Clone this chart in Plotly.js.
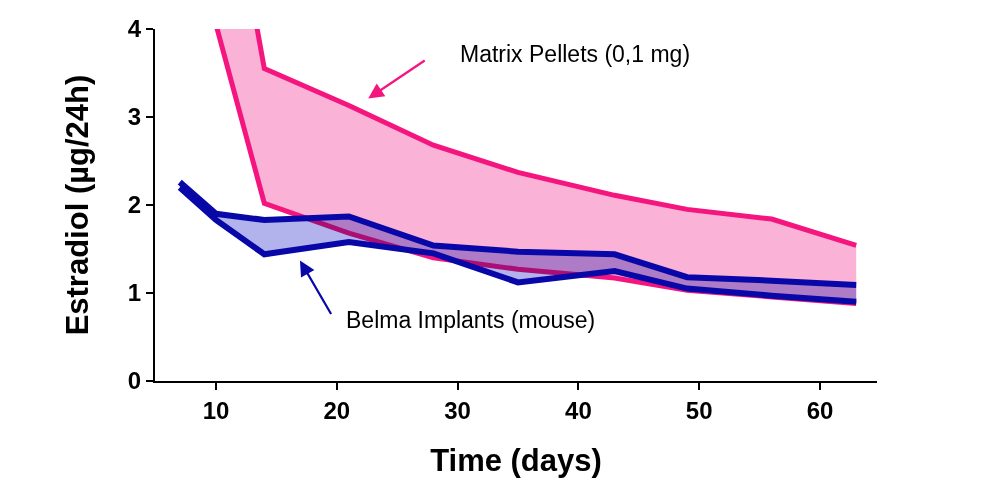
<!DOCTYPE html>
<html>
<head>
<meta charset="utf-8">
<script src="https://cdn.plot.ly/plotly-3.0.1.min.js"></script>
<style>
html,body{margin:0;padding:0;background:#fff;}
#chart{width:1000px;height:494px;}
</style>
</head>
<body>
<div id="chart"></div>
<script>
// Time points (days)
const pelletDays = [10, 14, 21, 28, 35, 43, 49, 56, 63];
const implantDays = [7, 10, 14, 21, 28, 35, 43, 49, 56, 63];

// Matrix Pellets (0,1 mg) – upper and lower bound (µg/24h)
const pelletUpper = [6.6, 3.55, 3.13, 2.68, 2.37, 2.11, 1.95, 1.84, 1.54];
const pelletLower = [4.05, 2.02, 1.68, 1.40, 1.27, 1.17, 1.03, 0.95, 0.88];

// Belma Implants (mouse) – upper and lower bound (µg/24h)
const implantUpper = [2.26, 1.90, 1.83, 1.87, 1.54, 1.47, 1.44, 1.18, 1.14, 1.09];
const implantLower = [2.20, 1.83, 1.44, 1.58, 1.45, 1.12, 1.25, 1.05, 0.97, 0.90];

const xTicks = [10, 20, 30, 40, 50, 60];
const yTicks = [0, 1, 2, 3, 4];

const PINK_LINE = '#f5157f';
const PINK_FILL = '#fab2d6';
const BLUE_LINE = '#0808a8';
const BLUE_FILL = '#b2b2ec';

const traces = [
  {x: pelletDays, y: pelletUpper, type: 'scatter', mode: 'lines',
   line: {color: PINK_LINE, width: 5}, hoverinfo: 'skip'},
  {x: pelletDays, y: pelletLower, type: 'scatter', mode: 'lines', fill: 'tonexty',
   fillcolor: PINK_FILL, line: {color: PINK_LINE, width: 5}, hoverinfo: 'skip'},
  {x: implantDays, y: implantUpper, type: 'scatter', mode: 'lines',
   line: {color: BLUE_LINE, width: 6}, hoverinfo: 'skip'},
  {x: implantDays, y: implantLower, type: 'scatter', mode: 'lines', fill: 'tonexty',
   fillcolor: BLUE_FILL, line: {color: BLUE_LINE, width: 6}, hoverinfo: 'skip'}
];

const tickFont = {family: 'Liberation Sans, Arial, sans-serif', size: 24, color: '#000', weight: 700};
const titleFont = {family: 'Liberation Sans, Arial, sans-serif', size: 31, color: '#000', weight: 700};
const annFont = {family: 'Liberation Sans, Arial, sans-serif', size: 23, color: '#000'};

const layout = {
  width: 1000, height: 494,
  margin: {l: 155, r: 123, t: 29, b: 113, pad: 0},
  paper_bgcolor: '#fff', plot_bgcolor: '#fff',
  showlegend: false,
  xaxis: {
    range: [4.95, 64.72], tickvals: xTicks, ticktext: xTicks.map(String),
    showgrid: false, zeroline: false, showline: true, linecolor: '#000', linewidth: 2,
    ticks: 'outside', ticklen: 7, tickwidth: 2, tickcolor: '#000',
    tickfont: tickFont, fixedrange: true,
    title: {text: 'Time (days)', font: titleFont, standoff: 27}
  },
  yaxis: {
    range: [0, 4], tickvals: yTicks, ticktext: yTicks.map(String),
    showgrid: false, zeroline: false, showline: true, linecolor: '#000', linewidth: 2,
    ticks: 'outside', ticklen: 7, tickwidth: 2, tickcolor: '#000',
    tickfont: tickFont, fixedrange: true,
    title: {text: 'Estradiol (µg/24h)', font: titleFont, standoff: 30}
  },
  annotations: [
    {x: 22.6, y: 3.21, xref: 'x', yref: 'y', ax: 58, ay: -39, showarrow: true,
     arrowhead: 2, arrowsize: 1.4, arrowwidth: 2.2, arrowcolor: PINK_LINE, text: ''},
    {x: 39.7, y: 3.72, xref: 'x', yref: 'y', showarrow: false,
     text: 'Matrix Pellets (0,1 mg)', font: annFont},
    {x: 16.95, y: 1.37, xref: 'x', yref: 'y', ax: 32, ay: 55, showarrow: true,
     arrowhead: 2, arrowsize: 1.4, arrowwidth: 2.2, arrowcolor: BLUE_LINE, text: ''},
    {x: 31.1, y: 0.69, xref: 'x', yref: 'y', showarrow: false,
     text: 'Belma Implants (mouse)', font: annFont}
  ]
};

Plotly.newPlot('chart', traces, layout, {displayModeBar: false, staticPlot: true}).then(function(){
  document.querySelectorAll('#chart .js-fill').forEach(function(p){
    p.style.mixBlendMode = 'multiply';
  });
});
</script>
</body>
</html>
